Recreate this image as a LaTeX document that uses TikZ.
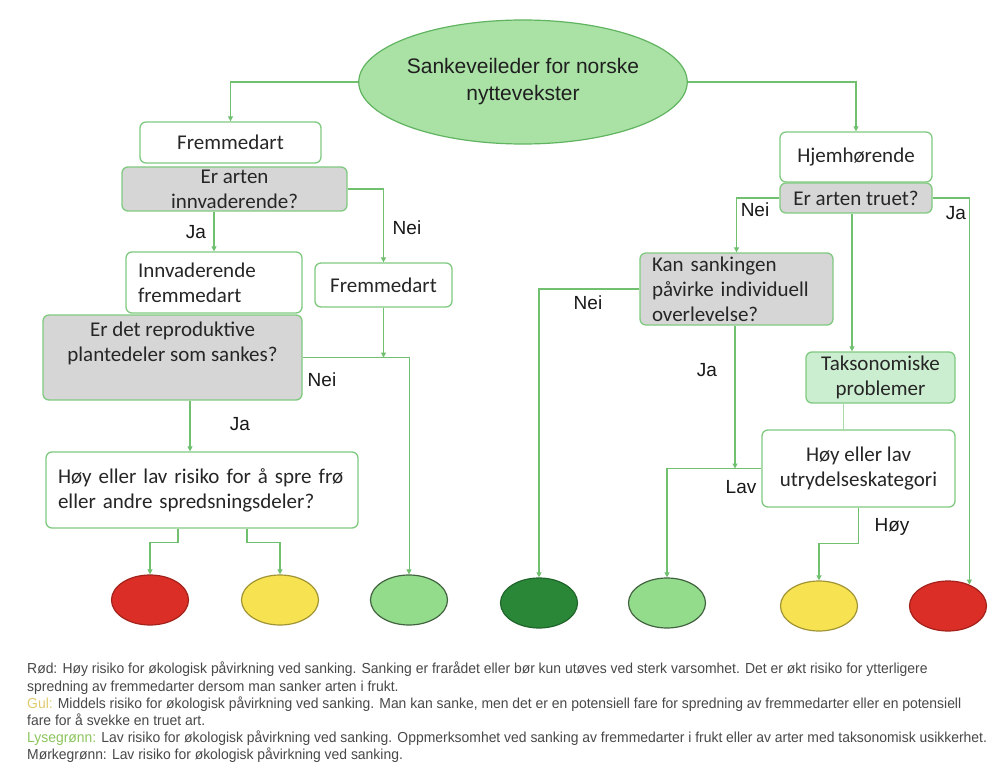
\documentclass[tikz,border=0pt]{standalone}
\usepackage{fontspec}
\setmainfont{Carlito}
\newfontfamily\arialfont{Liberation Sans}
\newfontfamily\legendfont[FakeStretch=0.96]{Liberation Sans}
\usetikzlibrary{shapes.geometric,arrows.meta}

\definecolor{linegreen}{RGB}{112,192,112}
\definecolor{boxgreen}{RGB}{128,202,128}
\definecolor{qgray}{RGB}{214,214,214}
\definecolor{titlefill}{RGB}{170,226,166}
\definecolor{titleline}{RGB}{96,180,96}
\definecolor{taksfill}{RGB}{204,238,208}
\definecolor{spotred}{RGB}{218,46,38}
\definecolor{spotyellow}{RGB}{247,227,82}
\definecolor{spotlight}{RGB}{146,220,140}
\definecolor{spotdark}{RGB}{42,135,56}
\definecolor{legendgray}{RGB}{72,72,72}
\definecolor{gulcol}{RGB}{224,204,110}
\definecolor{lysecol}{RGB}{140,196,92}

\begin{document}
\begin{tikzpicture}[x=1pt,y=-1pt,
  box/.style 2 args={rectangle, rounded corners=6pt, draw=boxgreen, line width=1.3pt,
    fill=white, text=black!85, font=\fontsize{21}{25}\selectfont, inner sep=0pt,
    align=center, minimum width=#1, minimum height=#2},
  qbox/.style 2 args={box={#1}{#2}, fill=qgray},
  lbox/.style 2 args={box={#1}{#2}, align=left, inner xsep=12pt, text width=#1-24pt},
  spot/.style={ellipse, line width=1.2pt, minimum width=77pt, minimum height=50pt, inner sep=0pt},
  conn/.style={draw=linegreen, line width=1.2pt, -{Triangle[length=5pt,width=5pt]}},
  lbl/.style={font=\arialfont\fontsize{19}{22}\selectfont, text=black!90, inner sep=0pt}]

  \useasboundingbox[fill=white] (0,0) rectangle (997,765);

  % top
  \node[ellipse, draw=titleline, line width=1.2pt, fill=titlefill, minimum width=267pt,
        minimum height=124pt, inner sep=0pt, align=center, text=black!88,
        font=\arialfont\fontsize{21}{27}\selectfont] (title) at (523,82)
        {Sankeveileder for norske\\nyttevekster};

  % left branch
  \node[box={181pt}{41pt}] (fremA) at (230.5,142.5) {Fremmedart};
  \node[qbox={225pt}{44pt}] (innvQ) at (234.5,189) {Er arten\\innvaderende?};
  \node[lbox={176pt}{61pt}] (innvF) at (214,282.5) {Innvaderende\\fremmedart};
  \node[box={137pt}{44pt}] (fremB) at (383.5,285) {Fremmedart};
  \node[qbox={259pt}{85pt}] (reproQ) at (172.5,357.5)
        {Er det reproduktive\\plantedeler som sankes?\\\strut};
  \node[lbox={312pt}{76pt}] (riskQ) at (202,490)
        {Høy eller lav risiko for å spre frø\\eller andre spredsningsdeler?};

  % right branch
  \node[box={152pt}{50pt}] (hjem) at (856,157) {Hjemhørende};
  \node[qbox={152pt}{30pt}] (truetQ) at (856,198) {Er arten truet?};
  \node[qbox={193pt}{72pt}, align=left, inner xsep=12pt, text width=169pt] (kanQ) at (736.5,289)
        {Kan sankingen\\påvirke individuell\\overlevelse?};
  \node[box={149pt}{51pt}, fill=taksfill] (takso) at (880.5,377.5) {Taksonomiske\\problemer};
  \node[box={193pt}{77pt}] (utryd) at (858.5,468.5) {Høy eller lav\\utrydelseskategori};

  % outcomes
  \node[spot, draw=spotred!75!black, fill=spotred] (redA) at (150,600) {};
  \node[spot, draw=spotyellow!65!black, fill=spotyellow] (yelA) at (280,600) {};
  \node[spot, draw=spotlight!45!black, fill=spotlight] (lgrA) at (409,600) {};
  \node[spot, draw=spotdark!75!black, fill=spotdark] (dgr) at (539,603) {};
  \node[spot, draw=spotlight!45!black, fill=spotlight] (lgrB) at (667,603) {};
  \node[spot, draw=spotyellow!65!black, fill=spotyellow] (yelB) at (819,606) {};
  \node[spot, draw=spotred!75!black, fill=spotred] (redB) at (948,606) {};

  % connectors
  \draw[conn] (title.west) -| (fremA.north);
  \draw[conn] (title.east) -| (hjem.north);
  \draw[conn] (innvQ.south -| innvF.north) -- (innvF.north);
  \draw[conn] (innvQ.east) -| (fremB.north);
  \draw[conn] (fremB.south) -- (fremB.south |- reproQ.east);
  \draw[conn, line width=0.8pt] (reproQ.east) -| (lgrA.north);
  \draw[conn] ([xshift=17.5pt]reproQ.south) -- ([xshift=17.5pt]reproQ.south |- riskQ.north);
  \draw[conn] ([xshift=-24pt]riskQ.south) -- ++(0,14) -| (redA.north);
  \draw[conn] ([xshift=45pt]riskQ.south) -- ++(0,14) -| (yelA.north);

  \draw[conn] (truetQ.west) -| (kanQ.north);
  \draw[conn] (truetQ.east) -| (redB.45);
  \draw[conn] ([xshift=-4pt]truetQ.south) -- ([xshift=-4pt]truetQ.south |- takso.north);
  \draw[conn] (kanQ.west) -| (dgr.north);
  \draw[conn] ([xshift=-1.5pt]kanQ.south) -- ([xshift=-1.5pt]kanQ.south |- utryd.west);
  \draw[conn] (utryd.west) -| (lgrB.north);
  \draw[draw=linegreen!60, line width=0.8pt] ([xshift=-37.5pt]takso.south) -- ([xshift=-37.5pt]takso.south |- utryd.north);
  \draw[conn] (utryd.south) -- ++(0,36) -| (yelB.north);

  % answers
  \node[lbl] (jaA) at (196,232) {Ja};
  \node[lbl] (neiA) at (407,228) {Nei};
  \node[lbl] (neiB) at (322,380) {Nei};
  \node[lbl] (jaB) at (240,424) {Ja};
  \node[lbl] (neiC) at (755,210) {Nei};
  \node[lbl] (jaC) at (956,213) {Ja};
  \node[lbl] (neiD) at (588,303) {Nei};
  \node[lbl] (jaD) at (707,370) {Ja};
  \node[lbl] (lav) at (741,487) {Lav};
  \node[lbl] (hoy) at (892,527) {Høy};

  % legend
  \node[anchor=north west, align=left, inner sep=0pt, text=legendgray,
        font=\legendfont\fontsize{14.5}{17.2}\selectfont] (legend) at (27,662)
  {Rød: Høy risiko for økologisk påvirkning ved sanking. Sanking er frarådet eller bør kun utøves ved sterk varsomhet. Det er økt risiko for ytterligere\\
   spredning av fremmedarter dersom man sanker arten i frukt.\\
   \textcolor{gulcol}{Gul:} Middels risiko for økologisk påvirkning ved sanking. Man kan sanke, men det er en potensiell fare for spredning av fremmedarter eller en potensiell\\
   fare for å svekke en truet art.\\
   \textcolor{lysecol}{Lysegrønn:} Lav risiko for økologisk påvirkning ved sanking. Oppmerksomhet ved sanking av fremmedarter i frukt eller av arter med taksonomisk usikkerhet.\\
   Mørkegrønn: Lav risiko for økologisk påvirkning ved sanking.};
\end{tikzpicture}
\end{document}
